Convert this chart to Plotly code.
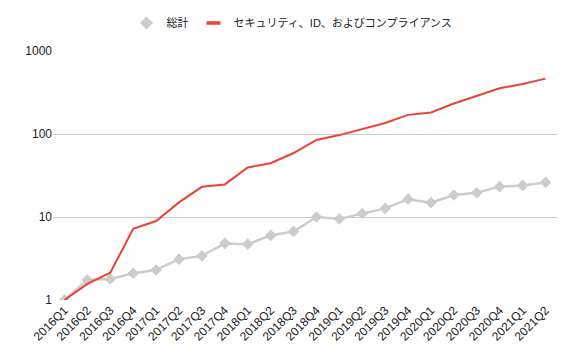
import plotly.graph_objects as go

quarters = ["2016Q1", "2016Q2", "2016Q3", "2016Q4", "2017Q1", "2017Q2", "2017Q3", "2017Q4",
            "2018Q1", "2018Q2", "2018Q3", "2018Q4", "2019Q1", "2019Q2", "2019Q3", "2019Q4",
            "2020Q1", "2020Q2", "2020Q3", "2020Q4", "2021Q1", "2021Q2"]
total = [1.0, 1.74, 1.79, 2.1, 2.3, 3.1, 3.4, 4.8, 4.7, 6.0, 6.7, 10.0,
         9.5, 11.0, 12.7, 16.4, 14.9, 18.4, 19.6, 23.2, 24.0, 26.1]
security = [1.0, 1.56, 2.13, 7.2, 8.95, 15.0, 23.1, 24.7, 39.5, 44.5, 59.0, 84.7,
            97.0, 115.0, 136.0, 170.0, 182.0, 233.0, 290.0, 356.0, 400.0, 465.0]
y_ticks = [1, 10, 100, 1000]
name_total = "総計"
name_sec = "セキュリティ、ID、およびコンプライアンス"

GRAY = "#cccccc"
RED = "#ea4335"
FONT = "Arial, 'Liberation Sans', 'Noto Sans CJK JP', sans-serif"

fig = go.Figure()
fig.add_trace(go.Scatter(x=quarters, y=total, mode="lines+markers", name=name_total,
                         line=dict(color=GRAY, width=2.5),
                         marker=dict(symbol="diamond", size=9, color=GRAY),
                         showlegend=False, legendgroup="t"))
fig.add_trace(go.Scatter(x=[None], y=[None], mode="markers", name=name_total,
                         marker=dict(symbol="diamond", size=10, color=GRAY),
                         legendgroup="t"))
fig.add_trace(go.Scatter(x=quarters, y=security, mode="lines", name=name_sec,
                         line=dict(color=RED, width=2),
                         showlegend=False, legendgroup="s"))
fig.add_trace(go.Scatter(x=[None], y=[None], mode="markers", name=name_sec,
                         marker=dict(symbol="line-ew-open", size=10, color=RED,
                                     line=dict(color=RED, width=3.5)),
                         legendgroup="s"))

W, H = 568, 353
fig.update_layout(
    width=W, height=H,
    margin=dict(l=45, r=19, t=43, b=61, autoexpand=False),
    paper_bgcolor="white", plot_bgcolor="white",
    font=dict(family=FONT, size=12, color="#222222"),
    legend=dict(orientation="h", x=0.5, xanchor="center", xref="container",
                y=1 - 15 / H, yanchor="middle", yref="container",
                font=dict(size=11, color="#222222"),
                traceorder="normal", bgcolor="rgba(0,0,0,0)"),
    showlegend=True,
)
fig.update_xaxes(type="category", tickangle=-45, showgrid=False, zeroline=False,
                 showline=False, ticks="", tickfont=dict(size=12),
                 range=[-0.5, 21.5], automargin=False)
fig.update_yaxes(type="log", range=[0, 3], tickvals=y_ticks,
                 ticktext=[str(v) for v in y_ticks],
                 showgrid=True, gridcolor="#cccccc", gridwidth=1, zeroline=False,
                 showline=False, ticks="", tickfont=dict(size=12), automargin=False)

fig.write_html("out.html")
